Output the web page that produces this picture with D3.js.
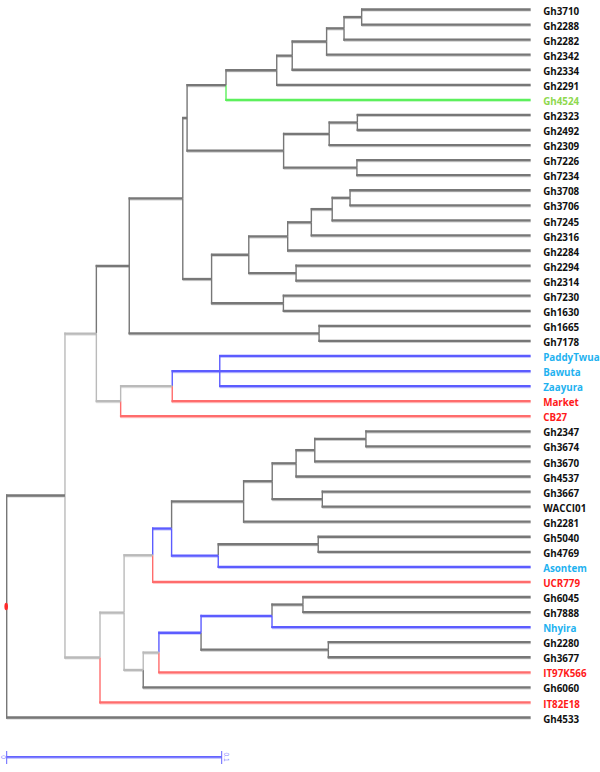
<!DOCTYPE html>
<html>
<head>
<meta charset="utf-8">
<script src="https://cdn.jsdelivr.net/npm/d3@7"></script>
<style>
  html, body { margin: 0; padding: 0; background: #fff; }
  svg { display: block; }
</style>
</head>
<body>
<svg id="chart" width="600" height="772"></svg>
<script>
// ---- DATA ----
// Leaves in display order (top to bottom)
const leafNames = [
  "Gh3710","Gh2288","Gh2282","Gh2342","Gh2334","Gh2291","Gh4524",
  "Gh2323","Gh2492","Gh2309","Gh7226","Gh7234",
  "Gh3708","Gh3706","Gh7245","Gh2316","Gh2284","Gh2294","Gh2314","Gh7230","Gh1630",
  "Gh1665","Gh7178",
  "PaddyTwua","Bawuta","Zaayura","Market","CB27",
  "Gh2347","Gh3674","Gh3670","Gh4537","Gh3667","WACCI01","Gh2281","Gh5040","Gh4769",
  "Asontem","UCR779","Gh6045","Gh7888","Nhyira","Gh2280","Gh3677","IT97K566","Gh6060",
  "IT82E18","Gh4533"
];
// Leaf group: landrace / improved (blue) / check (red) / distinct (green)
const leafGroups = [
  "landrace","landrace","landrace","landrace","landrace","landrace","distinct",
  "landrace","landrace","landrace","landrace","landrace",
  "landrace","landrace","landrace","landrace","landrace","landrace","landrace","landrace","landrace",
  "landrace","landrace",
  "improved","improved","improved","check","check",
  "landrace","landrace","landrace","landrace","landrace","landrace","landrace","landrace","landrace",
  "improved","check","landrace","landrace","improved","landrace","landrace","check","landrace",
  "check","landrace"
];
// Genetic distance of the leaves from the root (ultrametric)
const leafDistance = 0.2437;

// Internal clusters: id, children, distance from root, branch class
const clusterIds = [
  "root","c65","c96","c129","c182","c187","c226","c277","c292","c327","c344","c362",
  "c283a","c329","c357a","c357b","c211","c249","c288","c311","c332","c350","c296a","c283b",
  "c319","c120","c172","c219","c100","c124","c152","c171","c243","c272a","c296b","c314",
  "c366","c322","c218","c318","c143","c159","c201","c272b","c303","c328"
];
const clusterChildren = [
  ["c65","Gh4533"], ["c96","c100"], ["c129","c120"], ["c182","c319"], ["c187","c211"],
  ["c226","c283a"], ["c277","Gh4524"], ["c292","Gh2291"], ["c327","Gh2334"], ["c344","Gh2342"],
  ["c362","Gh2282"], ["Gh3710","Gh2288"],
  ["c329","c357b"], ["c357a","Gh2309"], ["Gh2323","Gh2492"], ["Gh7226","Gh7234"],
  ["c249","c283b"], ["c288","c296a"], ["c311","Gh2284"], ["c332","Gh2316"], ["c350","Gh7245"],
  ["Gh3708","Gh3706"], ["Gh2294","Gh2314"], ["Gh7230","Gh1630"],
  ["Gh1665","Gh7178"], ["c172","CB27"], ["c219","Market"], ["PaddyTwua","Bawuta","Zaayura"],
  ["c124","IT82E18"], ["c152","c143"], ["c171","UCR779"], ["c243","c218"], ["c272a","Gh2281"],
  ["c296b","c322"], ["c314","Gh4537"], ["c366","Gh3670"],
  ["Gh2347","Gh3674"], ["Gh3667","WACCI01"], ["c318","Asontem"], ["Gh5040","Gh4769"],
  ["c159","Gh6060"], ["c201","IT97K566"], ["c272b","c328"], ["c303","Nhyira"],
  ["Gh6045","Gh7888"], ["Gh2280","Gh3677"]
];
const clusterDistance = [
  0, 0.0271, 0.0417, 0.0570, 0.0819, 0.0839, 0.1020, 0.1256, 0.1328, 0.1488, 0.1569, 0.1651,
  0.1288, 0.1500, 0.1631, 0.1629, 0.0953, 0.1126, 0.1307, 0.1417, 0.1514, 0.1597, 0.1346, 0.1287,
  0.1453, 0.0530, 0.0770, 0.0991, 0.0434, 0.0546, 0.0679, 0.0767, 0.1102, 0.1235, 0.1346, 0.1433,
  0.1671, 0.1468, 0.0984, 0.1449, 0.0635, 0.0708, 0.0904, 0.1234, 0.1378, 0.1496
];
const clusterBranch = [
  "landrace","landrace","mixed","landrace","landrace","landrace","landrace","landrace","landrace","landrace","landrace","landrace",
  "landrace","landrace","landrace","landrace","landrace","landrace","landrace","landrace","landrace","landrace","landrace","landrace",
  "landrace","mixed","mixed","improved","mixed","mixed","mixed","improved","landrace","landrace","landrace","landrace",
  "landrace","landrace","improved","landrace","mixed","mixed","improved","improved","landrace","landrace"
];
const scaleBarTicks = [0, 0.1];
const scaleBarLabels = ["0", "0.1"];

// ---- BUILD TREE ----
const byId = new Map();
leafNames.forEach((n, i) => byId.set(n, { id: n, dist: leafDistance, branch: leafGroups[i], group: leafGroups[i], order: i }));
clusterIds.forEach((id, i) => byId.set(id, { id, dist: clusterDistance[i], branch: clusterBranch[i], kids: clusterChildren[i] }));
function build(id) {
  const n = byId.get(id);
  const o = { id: n.id, dist: n.dist, branch: n.branch, group: n.group, order: n.order };
  if (n.kids) o.children = n.kids.map(build);
  return o;
}
const root = d3.hierarchy(build("root"));

// ---- SCALES ----
const x = d3.scaleLinear().domain([0, 0.1]).range([6.7, 221.7]);
const y = d3.scaleLinear().domain([0, leafNames.length - 1]).range([9.5, 717.5]);

root.eachAfter(d => {
  d.px = x(d.data.dist);
  if (!d.children) d.py = y(d.data.order);
  else d.py = (d.children[0].py + d.children[d.children.length - 1].py) / 2;
});

const branchColor = d3.scaleOrdinal()
  .domain(["landrace","mixed","improved","check","distinct"])
  .range(["#777777","#bababa","#5c5cff","#ff6c6c","#5cf05c"]);
const shadowColor = d3.scaleOrdinal()
  .domain(["landrace","mixed","improved","check","distinct"])
  .range(["#cccccc","#e2e2e2","#c4c4ff","#ffcaca","#c8f8c8"]);
const labelColor = d3.scaleOrdinal()
  .domain(["landrace","improved","check","distinct"])
  .range(["#111111","#1fb2f0","#ff1a1a","#8ed84e"]);

const svg = d3.select("#chart");
const gLinks = svg.append("g");

const links = root.links();
// shadows for horizontal segments
gLinks.selectAll("line.hshadow").data(links).join("line")
  .attr("class", "hshadow")
  .attr("x1", d => d.source.px).attr("x2", d => d.target.px)
  .attr("y1", d => d.target.py + 1.3).attr("y2", d => d.target.py + 1.3)
  .attr("stroke", d => shadowColor(d.target.data.branch))
  .attr("stroke-width", 1.6);
// vertical segments
gLinks.selectAll("line.v").data(links).join("line")
  .attr("class", "v")
  .attr("x1", d => d.source.px).attr("x2", d => d.source.px)
  .attr("y1", d => d.source.py).attr("y2", d => d.target.py + (d.target.py > d.source.py ? 1 : -1))
  .attr("stroke", d => branchColor(d.target.data.branch))
  .attr("stroke-width", 1.4);
// horizontal segments
gLinks.selectAll("line.h").data(links).join("line")
  .attr("class", "h")
  .attr("x1", d => d.source.px - 0.7).attr("x2", d => d.target.px)
  .attr("y1", d => d.target.py).attr("y2", d => d.target.py)
  .attr("stroke", d => branchColor(d.target.data.branch))
  .attr("stroke-width", 2.3);

// root marker
svg.append("ellipse")
  .attr("cx", root.px - 0.5).attr("cy", root.py)
  .attr("rx", 1.8).attr("ry", 3.8)
  .attr("fill", "#ff2a2a");

// leaf labels
svg.append("g").selectAll("text").data(root.leaves()).join("text")
  .attr("x", d => d.px + 12.5)
  .attr("y", d => d.py + 2.5)
  .attr("dominant-baseline", "middle")
  .attr("font-family", "'Open Sans', 'Liberation Sans', sans-serif")
  .attr("font-weight", "bold")
  .attr("font-size", "9.8px")
  .attr("fill", d => labelColor(d.data.group))
  .text(d => d.data.id);

// scale bar
const sbY = 757;
const sb = svg.append("g");
sb.append("line")
  .attr("x1", x(scaleBarTicks[0])).attr("x2", x(scaleBarTicks[1]))
  .attr("y1", sbY).attr("y2", sbY)
  .attr("stroke", "#6464ff").attr("stroke-width", 2.2);
sb.append("line")
  .attr("x1", x(scaleBarTicks[0])).attr("x2", x(scaleBarTicks[1]))
  .attr("y1", sbY + 1.3).attr("y2", sbY + 1.3)
  .attr("stroke", "#c8c8ff").attr("stroke-width", 1.2);
sb.selectAll("line.tick").data(scaleBarTicks).join("line")
  .attr("class", "tick")
  .attr("x1", d => x(d)).attr("x2", d => x(d))
  .attr("y1", sbY - 6).attr("y2", sbY + 7)
  .attr("stroke", "#6464ff").attr("stroke-width", 1);
sb.selectAll("text").data(scaleBarTicks).join("text")
  .attr("transform", (d, i) => `translate(${x(d) + (i === 0 ? -4 : 4.5)},${sbY}) rotate(90)`)
  .attr("text-anchor", "middle")
  .attr("dominant-baseline", "middle")
  .attr("font-family", "'Liberation Sans', sans-serif")
  .attr("font-size", "6.5px")
  .attr("fill", "#8080ff")
  .text((d, i) => scaleBarLabels[i]);
</script>
</body>
</html>
